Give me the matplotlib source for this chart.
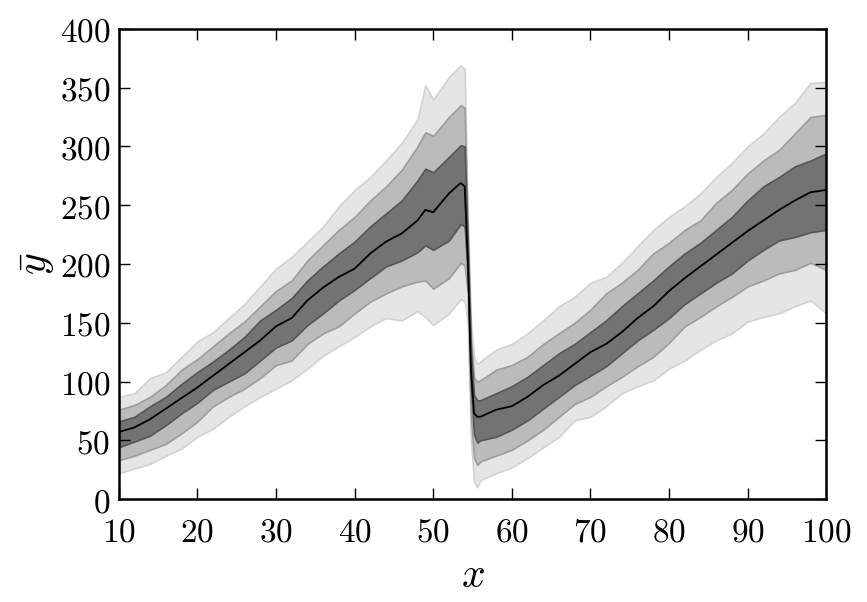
import numpy as np
import matplotlib
matplotlib.use('Agg')
import matplotlib.pyplot as plt
from matplotlib.ticker import FuncFormatter

plt.rcParams['mathtext.fontset'] = 'cm'

# x positions (finer around the drop)
x = [10, 12, 14, 16, 18, 20, 22, 24, 26, 28, 30, 32, 34, 36, 38, 40, 42, 44, 46, 48,
     49, 50, 52, 53.5, 54.0, 54.4, 54.8, 55.2, 55.6, 56, 58, 60, 62, 64, 66, 68, 70,
     72, 74, 76, 78, 80, 82, 84, 86, 88, 90, 92, 94, 96, 98, 100]

median = [57, 61, 68, 77, 86, 95, 105, 115, 125, 135, 147, 154, 169, 180, 189, 196, 209, 219, 226, 237,
          246, 244, 260, 269, 266, 205, 110, 73, 70, 70, 76, 79, 87, 97, 105, 115, 125,
          132, 142, 154, 164, 177, 188, 198, 208, 218, 228, 237, 246, 254, 261, 263]

inner_hi = [66, 70, 79, 87, 98, 108, 117, 127, 138, 152, 161, 171, 186, 198, 209, 219, 232, 243, 254, 271,
            281, 278, 291, 301, 300, 215, 125, 88, 84, 84, 90, 96, 104, 114, 124, 132, 142,
            152, 164, 175, 186, 198, 209, 218, 229, 240, 254, 266, 274, 283, 288, 294]

inner_lo = [44, 49, 54, 63, 73, 82, 93, 100, 107, 118, 129, 135, 148, 158, 169, 178, 188, 198, 203, 210,
            216, 212, 220, 234, 232, 190, 95, 55, 48, 50, 53, 59, 67, 77, 87, 97, 105,
            113, 124, 135, 144, 154, 166, 175, 184, 192, 203, 212, 220, 223, 227, 229]

mid_hi = [76, 80, 87, 97, 110, 119, 130, 141, 151, 164, 177, 186, 203, 216, 229, 240, 254, 266, 280, 300,
          312, 309, 325, 335, 333, 225, 135, 103, 100, 101, 110, 114, 121, 132, 141, 150, 161,
          175, 184, 195, 209, 218, 229, 237, 252, 263, 277, 288, 297, 311, 325, 327]

mid_lo = [33, 37, 42, 47, 56, 66, 79, 87, 94, 103, 114, 118, 132, 141, 147, 158, 168, 175, 181, 185,
          186, 179, 188, 201, 199, 175, 70, 35, 29, 32, 37, 42, 50, 59, 70, 81, 87,
          96, 104, 113, 121, 133, 147, 155, 164, 172, 181, 186, 192, 195, 201, 195]

outer_hi = [87, 90, 103, 108, 121, 134, 142, 154, 166, 181, 196, 206, 219, 232, 249, 263, 274, 288, 303, 323,
            352, 340, 359, 369, 366, 240, 150, 120, 115, 117, 127, 132, 141, 152, 164, 172, 184,
            189, 201, 215, 229, 240, 249, 260, 274, 286, 300, 311, 325, 337, 354, 355]

outer_lo = [22, 26, 30, 37, 43, 53, 60, 70, 79, 87, 94, 101, 111, 122, 130, 138, 147, 154, 152, 160,
            155, 148, 158, 170, 168, 150, 50, 15, 10, 16, 22, 27, 35, 44, 53, 67, 70,
            79, 90, 96, 101, 111, 118, 127, 135, 141, 151, 155, 158, 164, 169, 158]

fig = plt.figure(figsize=(8.67, 6.02), dpi=100)
ax = fig.add_axes([0.137, 0.171, 0.816, 0.781])

ax.fill_between(x, outer_lo, outer_hi, facecolor='#e5e5e5', edgecolor='#d2d2d2', lw=1.2)
ax.fill_between(x, mid_lo, mid_hi, facecolor='#bbbbbb', edgecolor='#9c9c9c', lw=1.2)
ax.fill_between(x, inner_lo, inner_hi, facecolor='#737373', edgecolor='#555555', lw=1.2)
ax.plot(x, median, color='k', lw=1.3)

ax.set_xlim(10, 100)
ax.set_ylim(0, 400)
ax.set_xticks(np.arange(10, 101, 10))
ax.set_yticks(np.arange(0, 401, 50))
fmt = FuncFormatter(lambda v, p: r'$%d$' % v)
ax.xaxis.set_major_formatter(fmt)
ax.yaxis.set_major_formatter(fmt)
ax.tick_params(direction='in', top=True, right=True, length=8, width=1,
               labelsize=24)
ax.tick_params(axis='x', pad=12)
ax.tick_params(axis='y', pad=6)
for s in ax.spines.values():
    s.set_linewidth(1.8)

ax.set_xlabel(r'$x$', fontsize=30, labelpad=4)
ax.set_ylabel(r'$\bar{y}$', fontsize=30, labelpad=2)

fig.savefig('out.png', dpi=100)
